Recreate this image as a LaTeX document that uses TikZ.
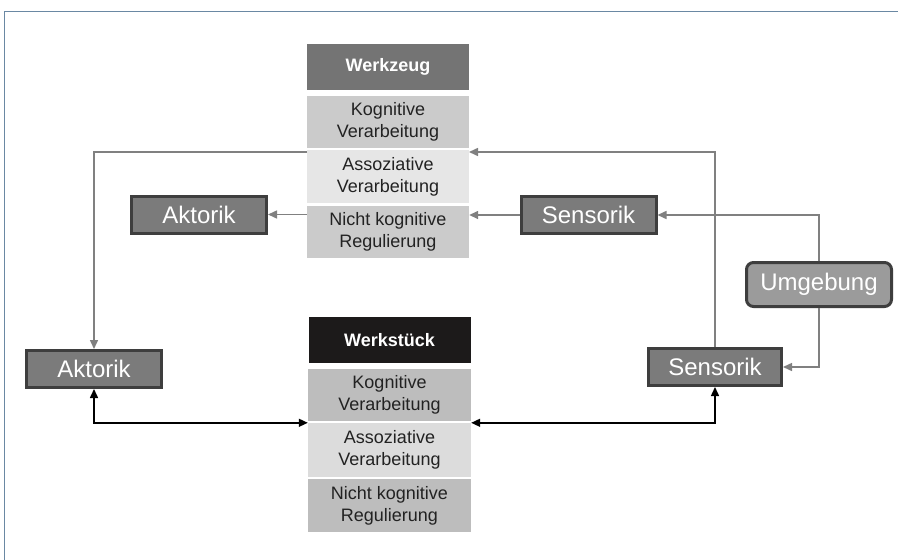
\documentclass[tikz,border=0pt]{standalone}
\usepackage{fontspec}
\setmainfont{Liberation Sans}
\usetikzlibrary{arrows.meta,calc}
\definecolor{hdrgray}{HTML}{747474}
\definecolor{hdrblack}{HTML}{1C1A1A}
\definecolor{cellA}{HTML}{CBCBCB}
\definecolor{cellB}{HTML}{E6E6E6}
\definecolor{cellC}{HTML}{BDBDBD}
\definecolor{cellD}{HTML}{DCDCDC}
\definecolor{boxfill}{HTML}{7B7B7B}
\definecolor{boxdraw}{HTML}{3E3E3E}
\definecolor{umgfill}{HTML}{9B9B9B}
\definecolor{conngray}{HTML}{808080}
\definecolor{framecol}{HTML}{6A88A3}
\definecolor{celltext}{HTML}{222222}
\tikzset{
  hdr/.style={rectangle, minimum width=162pt, minimum height=46pt, inner sep=0pt,
    text=white, font=\fontsize{18}{22}\selectfont\bfseries},
  cell/.style={rectangle, minimum width=162pt, minimum height=52pt, inner sep=0pt,
    text=celltext, align=center, font=\fontsize{18}{22}\selectfont},
  unit/.style={rectangle, fill=boxfill, draw=boxdraw, line width=3pt,
    minimum width=135pt, minimum height=37pt, inner sep=0pt,
    text=white, font=\fontsize{24}{28}\selectfont},
  garrow/.style={draw=conngray, line width=1.5pt,
    -{Triangle[length=9pt,width=8pt]}, color=conngray},
  gline/.style={draw=conngray, line width=1.5pt},
  barrow/.style={draw=black, line width=1.5pt,
    {Triangle[length=9pt,width=8pt]}-{Triangle[length=9pt,width=8pt]}}
}
\begin{document}
\begin{tikzpicture}[x=1pt,y=-1pt]
\useasboundingbox (0,0) rectangle (898,560);
\fill[white] (0,0) rectangle (898,560);
\draw[framecol, line width=1pt] (4,560) -- (4,11) -- (898,11);

% Werkzeug column
\node[hdr, fill=hdrgray] (wzh) at (388,67) {Werkzeug};
\node[cell, fill=cellA] (wz1) at (388,122) {Kognitive\\Verarbeitung};
\node[cell, fill=cellB, minimum height=53pt] (wz2) at (388,176.5) {Assoziative\\Verarbeitung};
\node[cell, fill=cellA] (wz3) at (388,231.5) {Nicht kognitive\\Regulierung};

% Werkstueck column
\node[hdr, fill=hdrblack] (wsh) at (389.5,340) {Werkstück};
\node[cell, fill=cellC, minimum width=163pt] (ws1) at (389.5,395) {Kognitive\\Verarbeitung};
\node[cell, fill=cellD, minimum width=163pt, minimum height=54pt] (ws2) at (389.5,450) {Assoziative\\Verarbeitung};
\node[cell, fill=cellC, minimum width=163pt, minimum height=53pt] (ws3) at (389.5,505.5) {Nicht kognitive\\Regulierung};

% units
\node[unit] (aktTop) at (199,214.5) {Aktorik};
\node[unit] (senTop) at (588.5,215) {Sensorik};
\node[unit] (aktBot) at (94,369) {Aktorik};
\node[unit, minimum width=133pt] (senBot) at (715,367) {Sensorik};
\node[unit, fill=umgfill, rounded corners=7pt, minimum width=145pt, minimum height=44pt] (umg) at (819,284.5) {Umgebung};

% coordinates on the Werkzeug column
\coordinate (inR) at (469,152);
\coordinate (outL) at (307,152);

% gray connectors
\draw[garrow] (wz3.west |- aktTop.east) -- (aktTop.east);
\draw[garrow] (senTop.west) -- (wz3.east |- senTop.west);
\draw[garrow] (umg.north) |- (senTop.east);
\draw[garrow] (umg.south) |- (senBot.east);
\draw[garrow] (senBot.north) |- (inR);
\draw[garrow] (outL) -| (aktBot.north);

% black connectors
\draw[barrow] (aktBot.south) |- (ws2.north west);
\draw[barrow] (senBot.south) |- (ws2.north east);
\end{tikzpicture}
\end{document}
